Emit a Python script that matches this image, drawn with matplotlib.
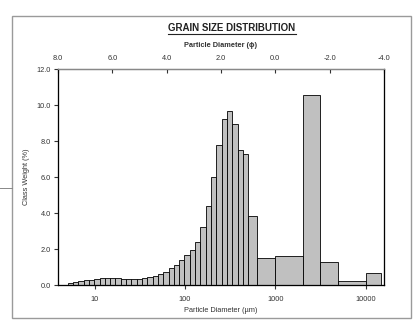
import numpy as np
import matplotlib
matplotlib.use('Agg')
import matplotlib.pyplot as plt
from matplotlib.patches import Rectangle
from matplotlib.lines import Line2D

plt.rcParams['font.family'] = ['Liberation Sans', 'DejaVu Sans']

##bin edges of the laser fraction (um)
fine_edges = [5.00, 5.73, 6.56, 7.51, 8.60, 9.84, 11.27, 12.90, 14.78, 16.92,
              19.37, 22.18, 25.40, 29.08, 33.30, 38.13, 43.66, 50.00, 57.25,
              65.55, 75.06, 85.94, 98.40, 112.7, 129.0, 147.7, 169.1, 193.7,
              221.7, 253.9, 290.7, 332.9, 381.1, 436.4, 500.0]
fine_pct = [0.12, 0.15, 0.22, 0.26, 0.30, 0.35, 0.39, 0.41, 0.41, 0.39,
            0.36, 0.35, 0.34, 0.34, 0.37, 0.43, 0.50, 0.60, 0.74, 0.92,
            1.12, 1.40, 1.64, 1.94, 2.41, 3.20, 4.41, 5.98, 7.76, 9.20,
            9.69, 8.97, 7.49, 7.26]
##sieve fraction (um)
coarse_edges = [500, 630, 1000, 2000, 3150, 5000, 10000, 15000]
coarse_pct = [3.83, 1.52, 1.59, 10.55, 1.30, 0.22, 0.65]

x_ticks = [10, 100, 1000, 10000]
x_labels = ['10', '100', '1000', '10000']
phi_ticks = [8, 6, 4, 2, 0, -2, -4]
phi_labels = ['8.0', '6.0', '4.0', '2.0', '0.0', '-2.0', '-4.0']
y_ticks = [0, 2, 4, 6, 8, 10, 12]
y_labels = ['0.0', '2.0', '4.0', '6.0', '8.0', '10.0', '12.0']

edges = np.array(fine_edges + coarse_edges[1:])
pct = np.array(fine_pct + coarse_pct)

W, H = 414, 327
fig = plt.figure(figsize=(W/100, H/100), dpi=100)
ax = fig.add_axes([58/W, 1-285/H, (384-58)/W, (285-69)/H])

ax.bar(edges[:-1], pct, width=np.diff(edges), align='edge',
       color='#c0c0c0', edgecolor='black', linewidth=0.6)

xmin, xmax = 1000.0*2.0**-8, 1000.0*2.0**4
ax.set_xscale('log')
ax.set_xlim(xmin, xmax)
ax.set_ylim(0, 12)
ax.minorticks_off()

tc = '#333333'
fs = 5.3
ax.set_xticks(x_ticks, x_labels)
ax.set_yticks(y_ticks, y_labels)
ax.tick_params(axis='x', direction='out', length=3, width=0.8, pad=5,
               labelsize=fs, colors=tc)
ax.tick_params(axis='y', direction='out', length=3, width=0.8, pad=2,
               labelsize=fs, colors=tc)
for s in ['left', 'bottom']:
    ax.spines[s].set_color('#444444')
    ax.spines[s].set_linewidth(0.9)
for s in ['top', 'right']:
    ax.spines[s].set_color('#888888')
    ax.spines[s].set_linewidth(1.0)

ax.set_xlabel('Particle Diameter (\u00b5m)', fontsize=fs, color=tc, labelpad=3)
ax.set_ylabel('Class Weight (%)', fontsize=fs, color=tc, labelpad=5)

##phi scale on top: phi = -log2(d / 1 mm)
top = ax.twiny()
top.set_xscale('log')
top.set_xlim(xmin, xmax)
top.minorticks_off()
top.set_xticks([1000.0*2.0**(-p) for p in phi_ticks], phi_labels)
top.tick_params(direction='in', length=3, width=0.8, pad=5, labelsize=fs,
                colors=tc)
top.spines['top'].set_color('#888888')
top.set_xlabel('Particle Diameter (\u03d5)', fontsize=fs, color=tc,
               labelpad=5.5, fontweight='bold')

##title with underline
t = fig.text(232/W, 1-28/H, 'GRAIN SIZE DISTRIBUTION', ha='center',
             va='center', fontsize=7, fontweight='bold', color='#222222')
fig.canvas.draw()
bb = t.get_window_extent().transformed(fig.transFigure.inverted())
fig.add_artist(Line2D([bb.x0, bb.x1], [bb.y0 - 0.004, bb.y0 - 0.004],
                      transform=fig.transFigure, color='#222222', lw=0.8))

##outer frame and small mark left of it
fig.add_artist(Rectangle((12/W, 1-318/H), (411-12)/W, (318-16)/H,
                         transform=fig.transFigure, fill=False,
                         edgecolor='#9a9a9a', linewidth=1.0))
fig.add_artist(Line2D([0, 12/W], [1-188/H, 1-188/H], transform=fig.transFigure,
                      color='#888888', lw=0.7))

fig.savefig('out.png', dpi=100)
